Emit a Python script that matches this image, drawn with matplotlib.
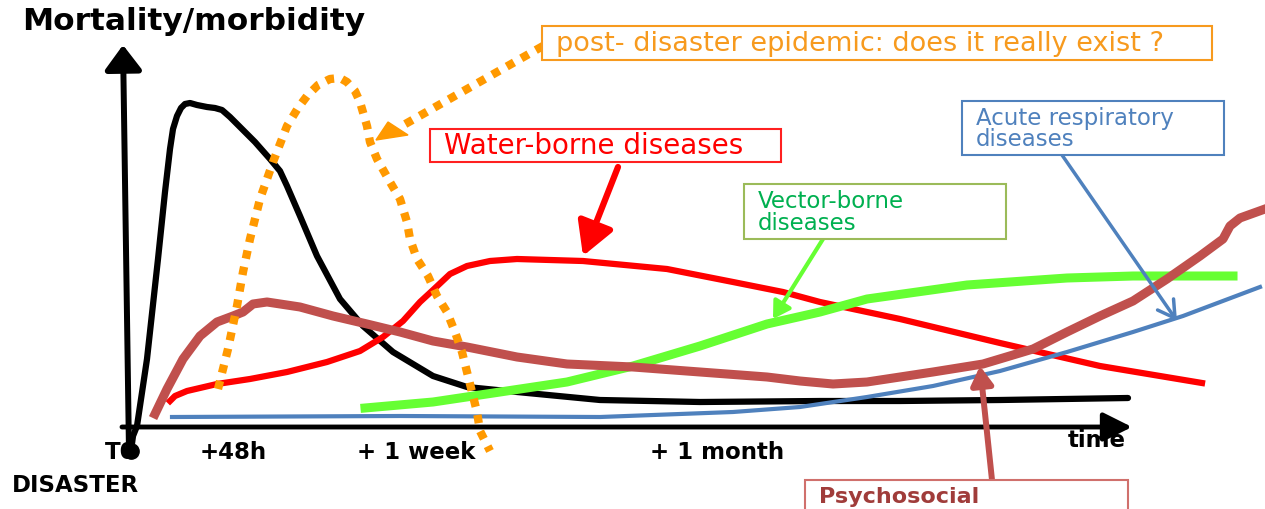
import matplotlib
matplotlib.use("Agg")
import matplotlib.pyplot as plt
from matplotlib.patches import Rectangle, Polygon

# pixel coordinates (x right, y down)
black_x = [131, 133, 137, 147, 158, 165, 170, 173, 177, 181, 185, 190, 197, 207, 215, 222, 230, 240, 255, 270, 280, 287, 300, 317, 340, 363, 393, 433, 467, 517, 600, 700, 820, 900, 1000, 1128]
black_y = [452, 437, 427, 360, 260, 193, 150, 130, 117, 109, 105, 104, 106, 108, 109, 111, 118, 128, 143, 160, 172, 187, 217, 257, 300, 327, 353, 377, 388, 393, 401, 403, 402, 402, 401, 399]

red_x = [170, 175, 187, 217, 250, 287, 327, 360, 383, 403, 420, 433, 450, 467, 490, 517, 583, 667, 733, 783, 820, 900, 1000, 1100, 1202]
red_y = [402, 397, 392, 385, 380, 373, 363, 352, 338, 322, 303, 291, 275, 267, 262, 260, 262, 270, 283, 293, 303, 320, 344, 367, 384]

orange_x = [218, 228, 237, 243, 250, 260, 273, 287, 298, 307, 318, 330, 340, 347, 355, 360, 367, 370, 377, 390, 400, 407, 410, 417, 428, 437, 447, 455, 462, 467, 472, 477, 480, 490]
orange_y = [390, 350, 307, 273, 240, 200, 163, 127, 109, 97, 86, 80, 79, 83, 92, 103, 127, 143, 160, 183, 200, 223, 240, 260, 277, 297, 313, 333, 353, 373, 393, 413, 432, 452]

psy_x = [155, 167, 183, 200, 217, 233, 243, 253, 267, 300, 333, 367, 400, 433, 467, 517, 567, 633, 700, 767, 800, 833, 867, 933, 983, 1033, 1067, 1100, 1133, 1167, 1200, 1223, 1230, 1240, 1265]
psy_y = [415, 390, 360, 337, 323, 317, 313, 305, 303, 308, 317, 325, 333, 342, 348, 358, 365, 368, 373, 378, 382, 385, 383, 373, 365, 350, 333, 317, 302, 280, 257, 240, 227, 219, 210]

green_x = [365, 433, 500, 567, 633, 700, 767, 820, 867, 967, 1067, 1133, 1233]
green_y = [409, 403, 393, 383, 367, 347, 325, 313, 300, 286, 279, 277, 277]

blue_x = [172, 400, 600, 733, 800, 867, 933, 1000, 1067, 1133, 1183, 1260]
blue_y = [418, 417, 418, 413, 408, 398, 387, 372, 353, 333, 317, 288]

axis_labels = ["T0", "+48h", "+ 1 week", "+ 1 month"]
axis_label_x = [105, 200, 357, 650]

boxes = {
    "post- disaster epidemic: does it really exist ?": ((542, 27, 670, 34), "#F79A1E", "#F79A1E", False, 19.5),
    "Water-borne diseases": ((430, 130, 351, 33), "#FF0000", "#FF2020", False, 20),
    "Vector-borne\ndiseases": ((744, 185, 262, 55), "#00B050", "#9BBB59", False, 16.5),
    "Acute respiratory\ndiseases": ((962, 102, 262, 54), "#4F81BD", "#4F81BD", False, 16.5),
    "Psychosocial": ((805, 481, 323, 40), "#A03C3A", "#D0706C", True, 16),
}

fig = plt.figure(figsize=(12.65, 5.1), dpi=100)
ax = fig.add_axes([0, 0, 1, 1])
ax.set_xlim(0, 1265)
ax.set_ylim(510, 0)
ax.axis("off")

# axes of the schematic
ax.annotate("", xy=(123, 46), xytext=(129, 453),
            arrowprops=dict(arrowstyle="-|>,head_length=0.6,head_width=0.45", lw=4.3, color="black",
                            shrinkA=0, shrinkB=0, mutation_scale=25))
ax.annotate("", xy=(1132, 428), xytext=(122, 428),
            arrowprops=dict(arrowstyle="-|>,head_length=0.7,head_width=0.35", lw=3.5, color="black",
                            shrinkA=0, shrinkB=0, mutation_scale=25))

# curves
ax.plot(black_x, black_y, color="black", lw=4.5, solid_capstyle="round", solid_joinstyle="round", zorder=3)
ax.plot(black_x[:1], black_y[:1], "o", color="black", ms=11, zorder=3)
ax.plot(red_x, red_y, color="#FF0000", lw=4.5, solid_joinstyle="round", zorder=4)
ax.plot(blue_x, blue_y, color="#4F81BD", lw=3.0, solid_joinstyle="round", zorder=5)
ax.plot(green_x, green_y, color="#66FF33", lw=6.5, solid_joinstyle="round", zorder=6)
ax.plot(psy_x, psy_y, color="#C0504D", lw=6.5, solid_joinstyle="round", zorder=7)
ax.plot(orange_x, orange_y, color="#FF9900", lw=6.0, linestyle=(0, (1, 1)), dash_capstyle="butt", zorder=8)

# orange dotted pointer
ax.plot([543, 400], [47, 128], color="#FF9900", lw=6.0, linestyle=(0, (1, 1)), dash_capstyle="butt", zorder=8)
ax.add_patch(Polygon([[376, 141], [388, 123], [408, 136]], closed=True, color="#FF9900", zorder=8))

# pointers from the boxes
ax.annotate("", xy=(583, 257), xytext=(618, 168),
            arrowprops=dict(arrowstyle="-|>,head_length=0.8,head_width=0.45", lw=4.5, color="#FF0000",
                            shrinkA=0, shrinkB=0, mutation_scale=25), zorder=9)
ax.annotate("", xy=(773, 320), xytext=(823, 240),
            arrowprops=dict(arrowstyle="-|>,head_length=0.5,head_width=0.3", lw=3.0, color="#66FF33",
                            shrinkA=0, shrinkB=0, mutation_scale=20), zorder=9)
ax.annotate("", xy=(1177, 322), xytext=(1062, 156),
            arrowprops=dict(arrowstyle="->,head_length=0.6,head_width=0.35", lw=2.5, color="#4F81BD",
                            shrinkA=0, shrinkB=0, mutation_scale=20), zorder=9)
ax.annotate("", xy=(980, 367), xytext=(992, 481),
            arrowprops=dict(arrowstyle="-|>,head_length=0.5,head_width=0.3", lw=4.3, color="#C0504D",
                            shrinkA=0, shrinkB=0, mutation_scale=22), zorder=9)

# labels
ax.text(22, 22, "Mortality/morbidity", fontsize=22.5, fontweight="bold", ha="left", va="center")
for lab, lx in zip(axis_labels, axis_label_x):
    ax.text(lx, 453, lab, fontsize=16.5, fontweight="bold", ha="left", va="center", zorder=1)
ax.text(12, 486, "DISASTER", fontsize=16.5, fontweight="bold", ha="left", va="center")
ax.text(1068, 441, "time", fontsize=16.5, fontweight="bold", ha="left", va="center")

for txt, ((bx, by, bw, bh), tc, ec, bold, fs) in boxes.items():
    ax.add_patch(Rectangle((bx, by), bw, bh, facecolor="white", edgecolor=ec, lw=1.5, zorder=10))
    ax.text(bx + 14, by + (16 if bold else bh / 2), txt, color=tc, fontsize=fs,
            fontweight="bold" if bold else "normal", ha="left", va="center", linespacing=0.92, zorder=11)

fig.savefig("out.png", dpi=100)
